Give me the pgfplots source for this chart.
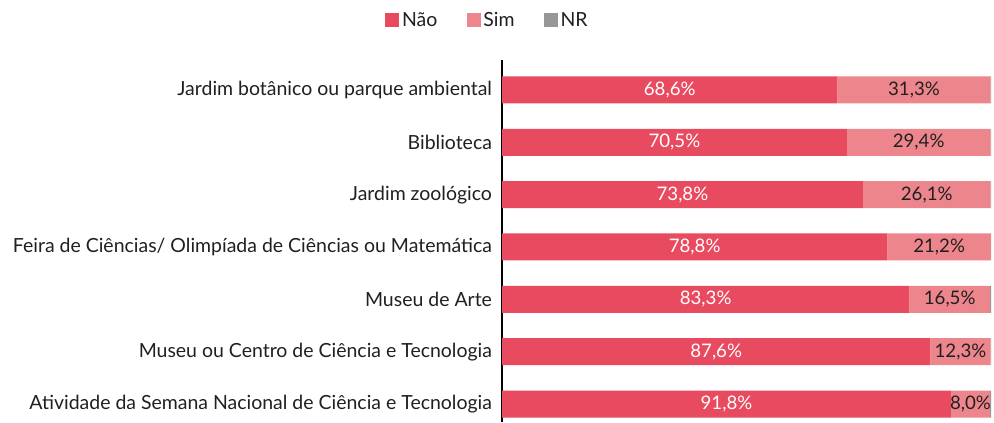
\documentclass[border=0pt]{standalone}
\usepackage{pgfplots}
\pgfplotsset{compat=1.18}
\usepackage{fontspec}
\setmainfont{Lato}
\definecolor{nao}{HTML}{E84A5F}
\definecolor{sim}{HTML}{EC868C}
\definecolor{nr}{HTML}{97979A}
\definecolor{txt}{HTML}{231F20}
\begin{document}
\begin{tikzpicture}
\useasboundingbox (0,0) rectangle (745.5pt,316.5pt);
\begin{axis}[
  at={(376.5pt,0pt)}, anchor=south west,
  scale only axis, width=366.75pt, height=271.5pt,
  xbar stacked, bar width=0.516,
  xmin=0, xmax=100, ymin=-0.573, ymax=6.344, y dir=reverse,
  axis x line=none,
  axis y line*=left,
  y axis line style={line width=2.2pt,-},
  ytick={0,...,6}, ytick style={draw=none},
  yticklabels={Jardim botânico ou parque ambiental, Biblioteca, Jardim zoológico, Feira de Ciências/ Olimpíada de Ciências ou Matemática, Museu de Arte, Museu ou Centro de Ciência e Tecnologia, Atividade da Semana Nacional de Ciência e Tecnologia},
  yticklabel style={font=\fontsize{14.6}{16}\selectfont, text=txt, xshift=-4pt},
  point meta=explicit symbolic,
  legend columns=3,
  legend style={draw=none, at={(-0.029,1.11)}, anchor=center, font=\fontsize{14.6}{16}\selectfont, text=txt, /tikz/every even column/.append style={column sep=20pt}},
  legend image code/.code={\fill[#1] (0pt,-5.25pt) rectangle (10.5pt,5.25pt);},
]
\addplot[fill=nao, draw=none, nodes near coords, every node near coord/.append style={text=white, font=\fontsize{14}{16}\selectfont}] table[meta=l] {
x y l
68.6 0 68,6\%
70.5 1 70,5\%
73.8 2 73,8\%
78.8 3 78,8\%
83.3 4 83,3\%
87.6 5 87,6\%
91.8 6 91,8\%
};
\addplot[fill=sim, draw=none, nodes near coords, every node near coord/.append style={text=txt, font=\fontsize{14}{16}\selectfont}] table[meta=l] {
x y l
31.3 0 31,3\%
29.4 1 29,4\%
26.1 2 26,1\%
21.2 3 21,2\%
16.5 4 16,5\%
12.3 5 12,3\%
8.0 6 8,0\%
};
\addplot[fill=nr, draw=none] table {
x y
0.1 0
0.1 1
0.1 2
0.0 3
0.2 4
0.1 5
0.2 6
};
\legend{Não, Sim, NR}
\end{axis}
\end{tikzpicture}
\end{document}
